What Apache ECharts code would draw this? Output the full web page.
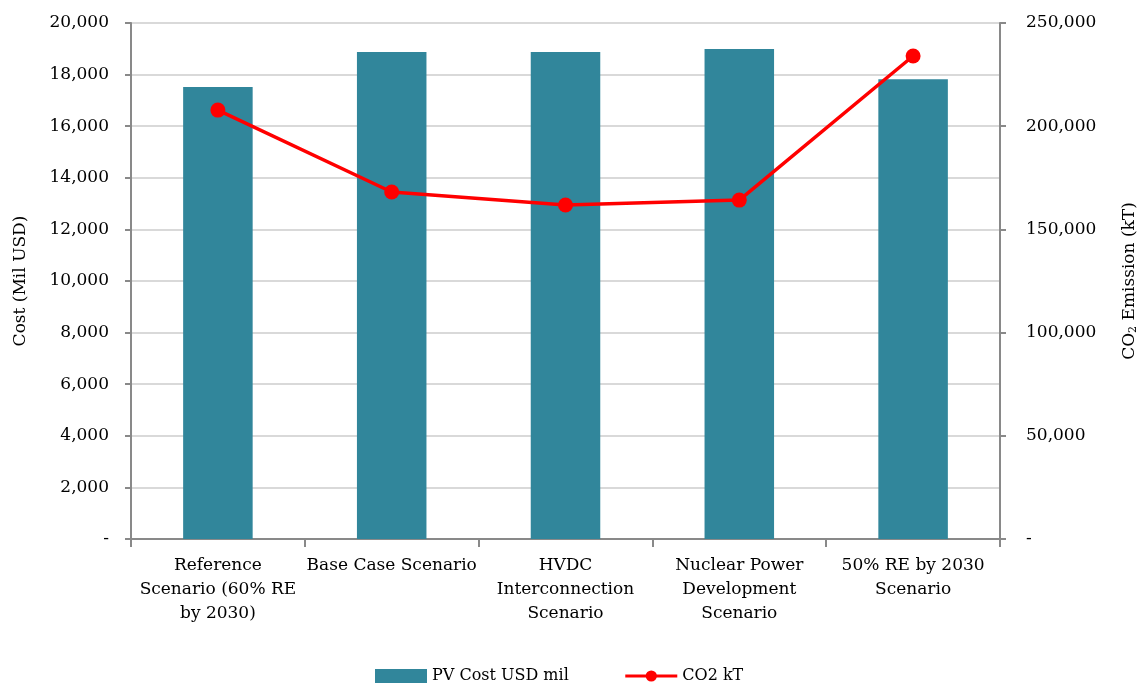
<!DOCTYPE html>
<html><head><meta charset="utf-8">
<script src="https://cdn.jsdelivr.net/npm/echarts@6/dist/echarts.min.js"></script>
<style>html,body{margin:0;padding:0;background:#fff}#c{width:1145px;height:686px}</style>
</head><body><div id="c"></div>
<script>
var categories = ["Reference\nScenario (60% RE\nby 2030)", "Base Case Scenario", "HVDC\nInterconnection\nScenario", "Nuclear Power\nDevelopment\nScenario", "50% RE by 2030\nScenario"];
var pvCost = [17520, 18880, 18880, 18990, 17820];
var co2 = [207800, 168100, 161800, 164200, 234000];
var FONT = 'DejaVu Serif';
var FS = 17;
var fmt = function(v){ return v === 0 ? '-' : v.toLocaleString('en-US'); };
var chart = echarts.init(document.getElementById('c'));
chart.setOption({
  animation: false,
  textStyle: {fontFamily: FONT, color: '#000'},
  grid: {left: 131, right: 145, top: 23, bottom: 147, containLabel: false, outerBoundsMode: 'none'},
  legend: {
    top: 663, left: 370, itemGap: 55, itemWidth: 52, itemHeight: 14,
    textStyle: {fontFamily: FONT, fontSize: 16, color: '#000'},
    data: [{name: 'PV Cost USD mil', icon: 'rect'}, {name: 'CO2 kT', lineStyle: {width: 3}}]
  },
  xAxis: {
    type: 'category', data: categories, boundaryGap: true,
    axisLine: {lineStyle: {color: '#898989', width: 2}},
    axisTick: {show: true, alignWithLabel: false, length: 8, lineStyle: {color: '#898989', width: 2}},
    axisLabel: {interval: 0, fontFamily: FONT, fontSize: FS, color: '#000', lineHeight: 24, margin: 15}
  },
  yAxis: [{
    type: 'value', min: 0, max: 20000, interval: 2000,
    name: 'Cost (Mil USD)', nameLocation: 'middle', nameGap: 102, nameRotate: 90,
    nameTextStyle: {fontFamily: FONT, fontSize: FS, color: '#000'},
    axisLine: {show: true, lineStyle: {color: '#898989', width: 2}},
    axisTick: {show: true, length: 6, lineStyle: {color: '#898989', width: 2}},
    splitLine: {lineStyle: {color: '#d9d9d9', width: 2}},
    axisLabel: {formatter: fmt, fontFamily: FONT, fontSize: FS, color: '#000', margin: 22}
  }, {
    type: 'value', min: 0, max: 250000, interval: 50000, position: 'right',
    name: 'CO{sub|2} Emission (kT)', nameLocation: 'middle', nameGap: 120, nameRotate: 90,
    nameTextStyle: {fontFamily: FONT, fontSize: FS, color: '#000',
      rich: {sub: {fontFamily: FONT, fontSize: 11, color: '#000', padding: [8, 0, 0, 0]}}},
    axisLine: {show: true, lineStyle: {color: '#898989', width: 2}},
    axisTick: {show: true, length: 6, lineStyle: {color: '#898989', width: 2}},
    splitLine: {show: false},
    axisLabel: {formatter: fmt, fontFamily: FONT, fontSize: FS, color: '#000', margin: 26}
  }],
  series: [{
    name: 'PV Cost USD mil', type: 'bar', data: pvCost, yAxisIndex: 0,
    barWidth: '40%', itemStyle: {color: '#31869b'}
  }, {
    name: 'CO2 kT', type: 'line', data: co2, yAxisIndex: 1,
    symbol: 'circle', symbolSize: 15,
    lineStyle: {color: '#ff0000', width: 3.5}, itemStyle: {color: '#ff0000'}
  }]
});
</script></body></html>
